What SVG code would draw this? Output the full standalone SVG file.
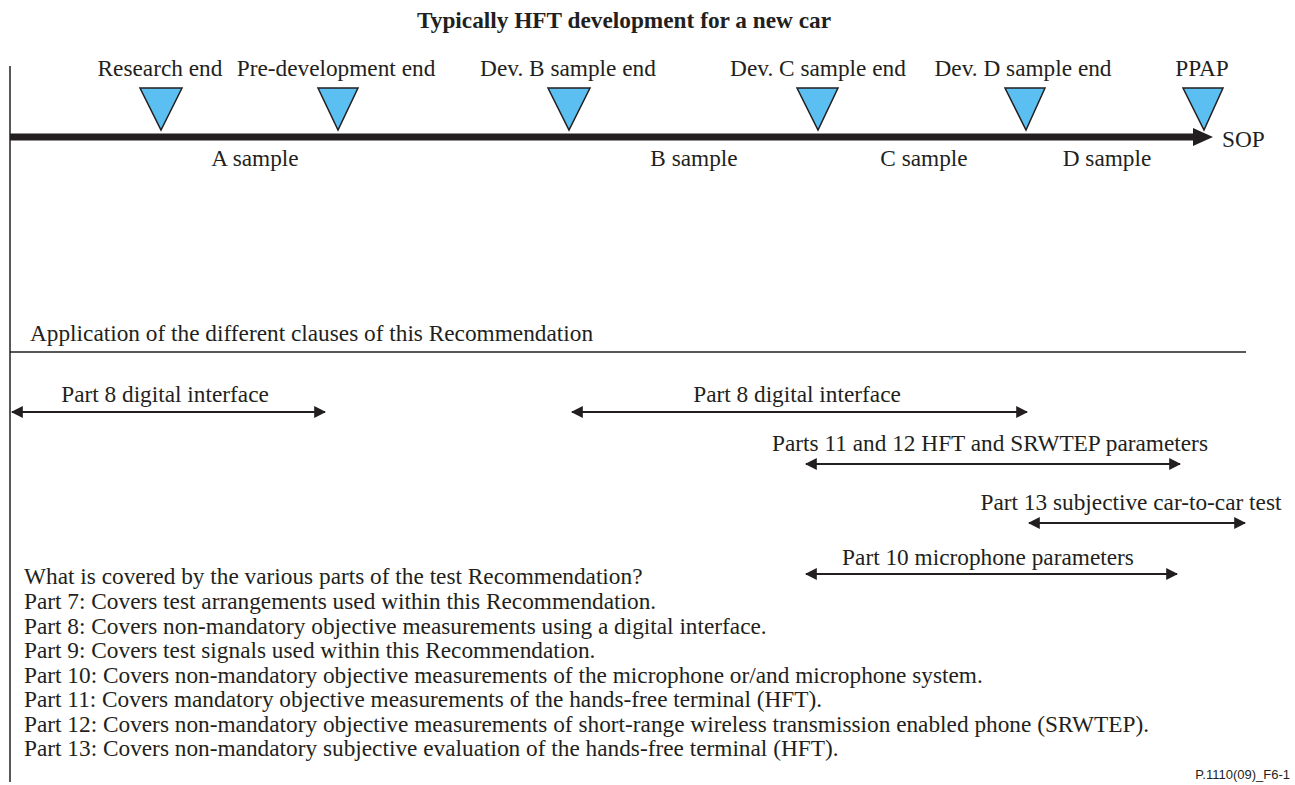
<svg xmlns="http://www.w3.org/2000/svg" width="1295" height="785" viewBox="0 0 1295 785">
<style>
text{font-family:"Liberation Serif","Times New Roman",serif;font-size:23.3px;fill:#231f20}
.t{font-weight:bold;font-size:23.3px}
.mid{text-anchor:middle}
.tri{fill:#5bbff2;stroke:#231f20;stroke-width:1.5}
.ln{stroke:#231f20;stroke-width:1.5;fill:none}
.arr{stroke:#231f20;stroke-width:2;fill:none;marker-start:url(#ah);marker-end:url(#ah)}
.foot{font-family:"Liberation Sans",Arial,sans-serif;font-size:13px}
</style>
<defs>
<marker id="ah" viewBox="0 0 10 10" refX="9" refY="5" markerWidth="6" markerHeight="6" orient="auto-start-reverse" markerUnits="strokeWidth">
<path d="M0,0 L10,5 L0,10 z" fill="#231f20"/>
</marker>
</defs>
<text class="t mid" x="624" y="28">Typically HFT development for a new car</text>
<g id="frame">
<line class="ln" x1="10" y1="66" x2="10" y2="782"/>
<line class="ln" x1="10" y1="352" x2="1246" y2="352"/>
</g>
<g id="timeline">
<line x1="10" y1="137" x2="1195" y2="137" stroke="#231f20" stroke-width="7"/>
<path d="M1193,128 L1213,137 L1193,146 z" fill="#231f20"/>
<text x="1222" y="147">SOP</text>
</g>
<g id="m-research"><path class="tri" d="M140,88 L182,88 L161,130 z"/><text class="mid" x="160" y="76">Research end</text></g>
<g id="m-predev"><path class="tri" d="M318,88 L358,88 L338,130 z"/><text class="mid" x="336" y="76">Pre-development end</text></g>
<g id="m-devb"><path class="tri" d="M548,88 L590,88 L569,130 z"/><text class="mid" x="568" y="76">Dev. B sample end</text></g>
<g id="m-devc"><path class="tri" d="M797,88 L838,88 L818,130 z"/><text class="mid" x="818" y="76">Dev. C sample end</text></g>
<g id="m-devd"><path class="tri" d="M1005,88 L1045,88 L1026,130 z"/><text class="mid" x="1023" y="76">Dev. D sample end</text></g>
<g id="m-ppap"><path class="tri" d="M1183,88 L1223,88 L1204,130 z"/><text class="mid" x="1202" y="76">PPAP</text></g>
<g id="samples">
<text class="mid" x="255" y="166">A sample</text>
<text class="mid" x="694" y="166">B sample</text>
<text class="mid" x="924" y="166">C sample</text>
<text class="mid" x="1107" y="166">D sample</text>
</g>
<text x="30" y="341">Application of the different clauses of this Recommendation</text>
<g id="connectors">
<line class="arr" x1="12" y1="412" x2="325" y2="412"/>
<line class="arr" x1="572" y1="412" x2="1027" y2="412"/>
<line class="arr" x1="806" y1="464" x2="1180" y2="464"/>
<line class="arr" x1="1029" y1="523" x2="1245" y2="523"/>
<line class="arr" x1="806" y1="574" x2="1177" y2="574"/>
</g>
<g id="labels">
<text class="mid" x="165" y="402">Part 8 digital interface</text>
<text class="mid" x="797" y="402">Part 8 digital interface</text>
<text class="mid" x="990" y="451">Parts 11 and 12 HFT and SRWTEP parameters</text>
<text class="mid" x="1131" y="510">Part 13 subjective car-to-car test</text>
<text class="mid" x="988" y="565">Part 10 microphone parameters</text>
</g>
<g id="notes">
<text x="24" y="584">What is covered by the various parts of the test Recommendation?</text>
<text x="24" y="609">Part 7: Covers test arrangements used within this Recommendation.</text>
<text x="24" y="634">Part 8: Covers non-mandatory objective measurements using a digital interface.</text>
<text x="24" y="658">Part 9: Covers test signals used within this Recommendation.</text>
<text x="24" y="683">Part 10: Covers non-mandatory objective measurements of the microphone or/and microphone system.</text>
<text x="24" y="707">Part 11: Covers mandatory objective measurements of the hands-free terminal (HFT).</text>
<text x="24" y="732">Part 12: Covers non-mandatory objective measurements of  short-range wireless transmission enabled phone (SRWTEP).</text>
<text x="24" y="756">Part 13: Covers non-mandatory subjective evaluation of the hands-free terminal (HFT).</text>
</g>
<text class="foot" x="1290" y="779" text-anchor="end">P.1110(09)_F6-1</text>
</svg>
